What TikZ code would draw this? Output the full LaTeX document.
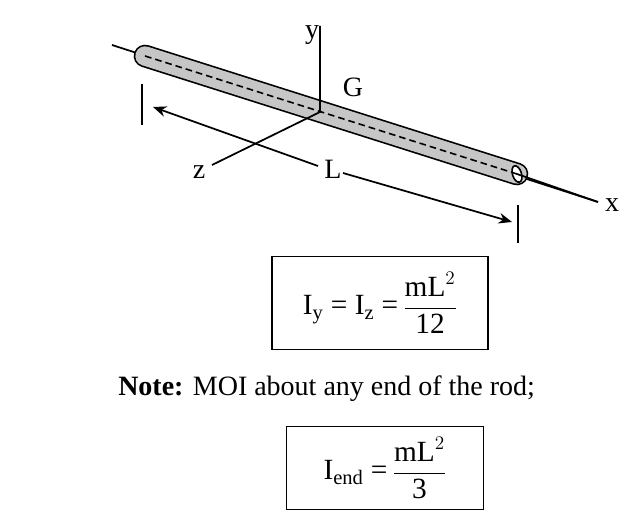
\documentclass[tikz,border=0pt]{standalone}
\usepackage{fontspec}
\setmainfont{Liberation Serif}
\usetikzlibrary{arrows.meta}
\begin{document}
\begin{tikzpicture}[x=0.75pt,y=-0.75pt,
    lbl/.style={font=\fontsize{21}{24}\selectfont, inner sep=0pt},
    fbox/.style={draw, line width=1pt, minimum width=162pt, minimum height=70pt, font=\fontsize{22}{26}\selectfont}]
    \useasboundingbox (0,0) rectangle (640,513);
    % axes and rod
    \coordinate (xs) at (112,45);
    \coordinate (xe) at (598,202);
    \coordinate (rl) at (145,56);
    \coordinate (rr) at (517,174);
    \coordinate (G) at (320,112);
    \draw [line width=1.3pt] (xs) -- (xe);
    \draw [line width=17pt, line cap=round] (rl) -- (rr);
    \draw [line width=14.5pt, line cap=round, gray!45] (rl) -- (rr);
    \draw [fill=white, line width=1.2pt, rotate around={17.6:(rr)}] (rr) ellipse (4.5 and 8.5);
    \draw [line width=1.3pt] (rr) -- (xe);
    \draw [dashed, line width=1.2pt, dash pattern=on 5pt off 3pt] (rl) -- (rr);
    \draw [line width=1.3pt] (320,26) -- (G) -- (212,165);
    % dimension
    \coordinate (dl) at (153,107);
    \coordinate (dr) at (512,222);
    \draw [line width=1.3pt] (142,84) -- (142,125);
    \draw [line width=1.3pt] (518,205) -- (518,243);
    \node [lbl] (L) at (333,169) {L};
    \draw [line width=1.3pt, -{Stealth[length=10pt,width=8pt]}] (318,166) -- (dl);
    \draw [line width=1.3pt, -{Stealth[length=10pt,width=8pt]}] (343,173) -- (dr);
    \node [lbl] (ly) at (312,35) {y};
    \node [lbl] (lG) at (353,87) {G};
    \node [lbl] (lz) at (199,172) {z};
    \node [lbl] (lx) at (612,205) {x};
    % formulas
    \node [fbox] (f1) at (380,303) {I\textsubscript{y} = I\textsubscript{z} =\,$\displaystyle\frac{\mbox{mL}^2}{\mbox{12}}$};
    \node [lbl, anchor=west] (note) at (118,389) {\textbf{Note:} MOI about any end of the rod;};
    \node [fbox, minimum width=148pt, minimum height=62pt] (f2) at (385,468) {I\textsubscript{end} =\,$\displaystyle\frac{\mbox{mL}^2}{\mbox{3}}$};
\end{tikzpicture}
\end{document}
